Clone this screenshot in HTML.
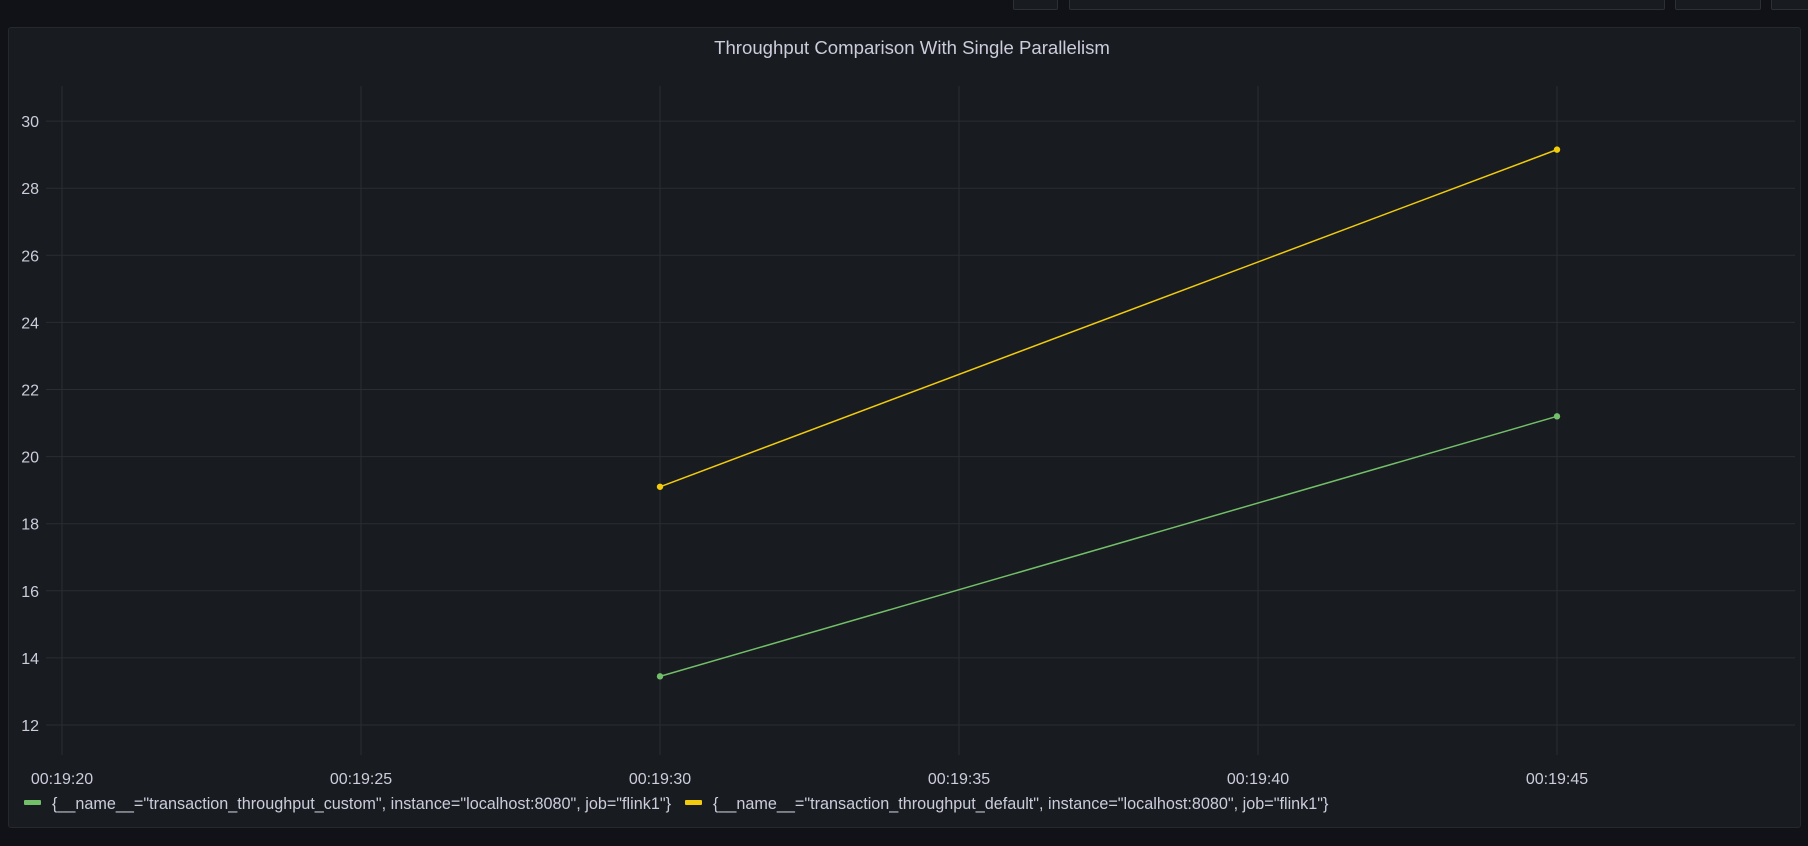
<!DOCTYPE html>
<html><head><meta charset="utf-8"><style>
html,body{margin:0;padding:0;background:#111217;width:1808px;height:846px;overflow:hidden;font-family:"Liberation Sans",sans-serif;}
.tb{position:absolute;top:-2px;height:10px;border:1px solid #2c2f35;background:#181b1f;border-radius:2px;}
#panel{position:absolute;left:8px;top:27px;width:1791px;height:799px;background:#181b1f;border:1px solid #25282d;border-radius:3px;}
</style></head><body>
<div class="tb" style="left:1013px;width:43px"></div>
<div class="tb" style="left:1069px;width:594px"></div>
<div class="tb" style="left:1675px;width:84px"></div>
<div class="tb" style="left:1771px;width:50px"></div>
<div id="panel"></div>
<svg id="chart" width="1808" height="846" style="position:absolute;left:0;top:0">
<text x="912" y="54" text-anchor="middle" fill="#ccccdc" font-size="18.6">Throughput Comparison With Single Parallelism</text>
</svg>
<script>
const xTicks=[20,25,30,35,40,45];
const xTickLabels=["00:19:20","00:19:25","00:19:30","00:19:35","00:19:40","00:19:45"];
const yTicks=[12,14,16,18,20,22,24,26,28,30];
const seriesTimes=[30,45];
const customValues=[13.45,21.2];
const defaultValues=[19.1,29.15];
const seriesNames=['{__name__="transaction_throughput_custom", instance="localhost:8080", job="flink1"}','{__name__="transaction_throughput_default", instance="localhost:8080", job="flink1"}'];
const colors=["#73bf69","#f2cc0c"];
const NS="http://www.w3.org/2000/svg";
const svg=document.getElementById('chart');
const X=t=>62+(t-20)*59.8;
const Y=v=>725-(v-12)*33.55;
function mk(tag,a){const e=document.createElementNS(NS,tag);for(const k in a)e.setAttribute(k,a[k]);svg.appendChild(e);return e;}
yTicks.forEach(v=>{
 const l=mk('line',{x1:46,x2:1795,y1:Y(v),y2:Y(v),stroke:'#2a2d33','stroke-width':1});
 
 
 const t=mk('text',{x:39,y:Y(v)+6,'text-anchor':'end',fill:'#ccccdc','font-size':16});
 t.textContent=v;
 
 
});
xTicks.forEach((v,i)=>{
 const l=mk('line',{x1:X(v),x2:X(v),y1:86,y2:755,stroke:'#2a2d33','stroke-width':1});
 
 
 const t=mk('text',{x:X(v),y:784,'text-anchor':'middle',fill:'#ccccdc','font-size':16});
 t.textContent=xTickLabels[i];
 
 
});
[customValues,defaultValues].forEach((vals,s)=>{
 const p=mk('polyline',{points:vals.map((v,i)=>X(seriesTimes[i])+','+Y(v)).join(' '),fill:'none',stroke:colors[s],'stroke-width':1.5});
 
 
 vals.forEach((v,i)=>{
  const c=mk('circle',{cx:X(seriesTimes[i]),cy:Y(v),r:3.2,fill:colors[s]});
  
  
 });
});
let lx=24;
seriesNames.forEach((n,s)=>{
 const r=mk('rect',{x:lx,y:800,width:17,height:5,rx:1,fill:colors[s]});
 
 
 const t=mk('text',{x:lx+28,y:809,fill:'#ccccdc','font-size':16.2});
 t.textContent=n;
 
 
 lx+=28+t.getComputedTextLength()+14;
});
</script>
</body></html>
